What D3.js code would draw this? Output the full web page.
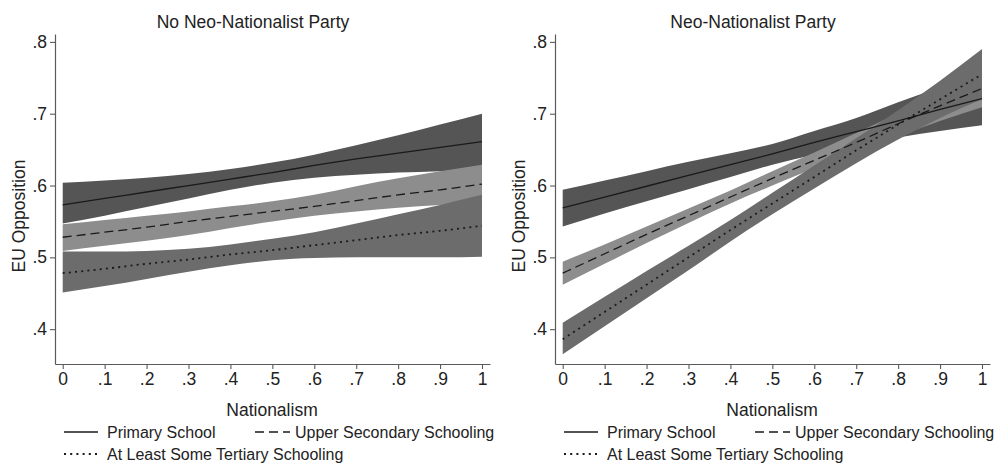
<!DOCTYPE html>
<html>
<head>
<meta charset="utf-8">
<script src="https://cdn.jsdelivr.net/npm/d3@7"></script>
<style>
  html, body { margin: 0; padding: 0; background: #ffffff; }
  svg { display: block; font-family: "Liberation Sans", Arial, Helvetica, sans-serif; }
</style>
</head>
<body>
<svg id="chart" width="1004" height="464"></svg>
<script>
// ---------------- DATA ----------------
const nationalism = [0, 0.1, 0.2, 0.3, 0.4, 0.5, 0.6, 0.7, 0.8, 0.9, 1];
const xTickValues = [0, 0.1, 0.2, 0.3, 0.4, 0.5, 0.6, 0.7, 0.8, 0.9, 1];
const xTickLabels = ["0", ".1", ".2", ".3", ".4", ".5", ".6", ".7", ".8", ".9", "1"];
const yTickValues = [0.4, 0.5, 0.6, 0.7, 0.8];
const yTickLabels = [".4", ".5", ".6", ".7", ".8"];
const panelTitles = ["No Neo-Nationalist Party", "Neo-Nationalist Party"];
const seriesNames = ["Primary School", "Upper Secondary Schooling", "At Least Some Tertiary Schooling"];

// No Neo-Nationalist Party
const noPrimaryMean   = [0.573, 0.582, 0.591, 0.600, 0.609, 0.618, 0.628, 0.637, 0.645, 0.653, 0.661];
const noPrimaryLow    = [0.547, 0.558, 0.570, 0.582, 0.594, 0.604, 0.611, 0.615, 0.618, 0.620, 0.621];
const noPrimaryHigh   = [0.604, 0.607, 0.611, 0.616, 0.623, 0.632, 0.643, 0.656, 0.670, 0.685, 0.700];
const noSecondaryMean = [0.528, 0.535, 0.542, 0.550, 0.557, 0.564, 0.571, 0.579, 0.587, 0.594, 0.602];
const noSecondaryLow  = [0.509, 0.516, 0.523, 0.531, 0.541, 0.550, 0.558, 0.564, 0.569, 0.573, 0.576];
const noSecondaryHigh = [0.546, 0.552, 0.558, 0.564, 0.571, 0.578, 0.587, 0.599, 0.610, 0.620, 0.629];
const noTertiaryMean  = [0.478, 0.484, 0.491, 0.497, 0.504, 0.510, 0.517, 0.524, 0.531, 0.537, 0.544];
const noTertiaryLow   = [0.451, 0.460, 0.470, 0.480, 0.489, 0.496, 0.499, 0.500, 0.500, 0.500, 0.501];
const noTertiaryHigh  = [0.508, 0.508, 0.509, 0.512, 0.518, 0.526, 0.535, 0.547, 0.560, 0.573, 0.587];

// Neo-Nationalist Party
const neoPrimaryMean   = [0.569, 0.584, 0.599, 0.614, 0.629, 0.644, 0.660, 0.675, 0.690, 0.706, 0.721];
const neoPrimaryLow    = [0.543, 0.561, 0.578, 0.595, 0.612, 0.629, 0.643, 0.656, 0.667, 0.676, 0.684];
const neoPrimaryHigh   = [0.594, 0.607, 0.620, 0.633, 0.645, 0.658, 0.676, 0.694, 0.716, 0.737, 0.758];
const neoSecondaryMean = [0.478, 0.505, 0.532, 0.558, 0.584, 0.610, 0.635, 0.660, 0.686, 0.711, 0.735];
const neoSecondaryLow  = [0.462, 0.491, 0.520, 0.548, 0.575, 0.600, 0.624, 0.647, 0.669, 0.690, 0.709];
const neoSecondaryHigh = [0.494, 0.518, 0.543, 0.568, 0.593, 0.620, 0.646, 0.673, 0.701, 0.731, 0.761];
const neoTertiaryMean  = [0.386, 0.424, 0.462, 0.500, 0.538, 0.575, 0.612, 0.649, 0.685, 0.720, 0.755];
const neoTertiaryLow   = [0.365, 0.404, 0.443, 0.482, 0.522, 0.560, 0.596, 0.631, 0.664, 0.694, 0.720];
const neoTertiaryHigh  = [0.409, 0.445, 0.481, 0.516, 0.552, 0.590, 0.628, 0.666, 0.705, 0.746, 0.790];

// ---------------- STYLE ----------------
const bandColors = ["#555555", "#8d8d8d", "#6c6c6c"];
const lineDash = [null, "9,5", "2,4.2"];
const lineColor = "#1a1a1a";
const axisColor = "#5a5a5a";
const textColor = "#222222";

const panels = [
  { offset: 0, title: panelTitles[0], series: [
    { mean: noPrimaryMean, low: noPrimaryLow, high: noPrimaryHigh },
    { mean: noSecondaryMean, low: noSecondaryLow, high: noSecondaryHigh },
    { mean: noTertiaryMean, low: noTertiaryLow, high: noTertiaryHigh } ] },
  { offset: 500, title: panelTitles[1], series: [
    { mean: neoPrimaryMean, low: neoPrimaryLow, high: neoPrimaryHigh },
    { mean: neoSecondaryMean, low: neoSecondaryLow, high: neoSecondaryHigh },
    { mean: neoTertiaryMean, low: neoTertiaryLow, high: neoTertiaryHigh } ] }
];

const svg = d3.select("#chart");

panels.forEach(p => {
  const g = svg.append("g").attr("transform", `translate(${p.offset},0)`);
  const x = d3.scaleLinear().domain([-0.0184, 1.0191]).range([55, 490]);
  const y = d3.scaleLinear().domain([0.3515, 0.811]).range([364, 34]);

  // bands
  p.series.forEach((s, i) => {
    const area = d3.area()
      .x((d, k) => x(nationalism[k]))
      .y0((d, k) => y(s.low[k]))
      .y1((d, k) => y(s.high[k]))
      .curve(d3.curveMonotoneX);
    g.append("path").datum(s.mean).attr("d", area)
      .attr("fill", bandColors[i]).attr("stroke", "none");
  });
  // lines
  p.series.forEach((s, i) => {
    const line = d3.line()
      .x((d, k) => x(nationalism[k]))
      .y(d => y(d))
      .curve(d3.curveMonotoneX);
    g.append("path").datum(s.mean).attr("d", line)
      .attr("fill", "none").attr("stroke", lineColor)
      .attr("stroke-width", i === 2 ? 1.8 : 1.3)
      .attr("stroke-dasharray", lineDash[i]);
  });

  // axes
  const yAxis = d3.axisLeft(y).tickValues(yTickValues)
    .tickFormat((d, k) => yTickLabels[k]).tickSizeInner(5).tickSizeOuter(0).tickPadding(3);
  const ya = g.append("g").attr("transform", "translate(55,0)").call(yAxis);
  const xAxis = d3.axisBottom(x).tickValues(xTickValues)
    .tickFormat((d, k) => xTickLabels[k]).tickSizeInner(5).tickSizeOuter(0).tickPadding(4);
  const xa = g.append("g").attr("transform", "translate(0,364)").call(xAxis);
  [ya, xa].forEach(a => {
    a.select(".domain").attr("stroke", axisColor).attr("stroke-width", 1.2);
    a.selectAll(".tick line").attr("stroke", axisColor).attr("stroke-width", 1.1);
    a.selectAll(".tick text").attr("fill", textColor)
      .style("font-size", "17.5px").style("font-family", "'Liberation Sans', Arial, sans-serif");
  });

  // titles
  g.append("text").attr("x", 253).attr("y", 27.5).attr("text-anchor", "middle")
    .attr("fill", textColor).style("font-size", "17.5px").text(p.title);
  g.append("text").attr("x", 272).attr("y", 416).attr("text-anchor", "middle")
    .attr("fill", textColor).style("font-size", "17.5px").text("Nationalism");
  g.append("text").attr("transform", "translate(25,216) rotate(-90)").attr("text-anchor", "middle")
    .attr("fill", textColor).style("font-size", "17.5px").text("EU Opposition");

  // legend
  const legendItems = [
    { x1: 64, x2: 98, y: 432, tx: 107, ty: 437.5, i: 0 },
    { x1: 255, x2: 290, y: 432, tx: 295, ty: 437.5, i: 1 },
    { x1: 64, x2: 98, y: 454, tx: 107, ty: 460, i: 2 }
  ];
  legendItems.forEach(it => {
    g.append("line").attr("x1", it.x1).attr("x2", it.x2).attr("y1", it.y).attr("y2", it.y)
      .attr("stroke", lineColor).attr("stroke-width", it.i === 2 ? 1.8 : 1.3)
      .attr("stroke-dasharray", lineDash[it.i]);
    g.append("text").attr("x", it.tx).attr("y", it.ty).attr("fill", textColor)
      .style("font-size", "16px").text(seriesNames[it.i]);
  });
});
</script>
</body>
</html>
